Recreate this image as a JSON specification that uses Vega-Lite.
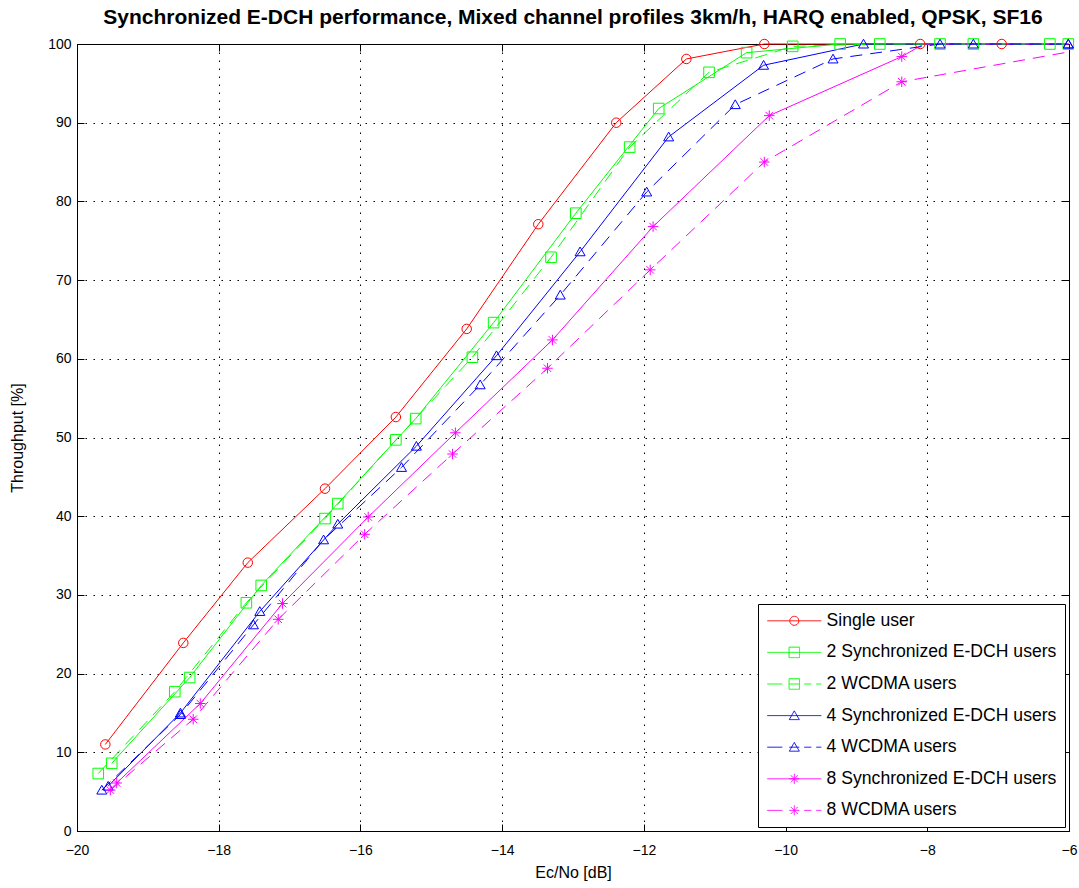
{
  "$schema": "https://vega.github.io/schema/vega-lite/v6.json",
  "width": 992,
  "height": 787,
  "autosize": "none",
  "padding": {"left": 77, "top": 44, "right": 10, "bottom": 57},
  "background": "white",
  "title": {
    "text": "Synchronized E-DCH performance, Mixed channel profiles 3km/h, HARQ enabled, QPSK, SF16",
    "font": "Liberation Sans",
    "fontWeight": "bold",
    "fontSize": 21,
    "color": "black",
    "anchor": "middle",
    "offset": 9
  },
  "config": {
    "view": {"stroke": "black", "strokeWidth": 1},
    "axis": {
      "domainColor": "black",
      "tickColor": "black",
      "labelColor": "black",
      "titleColor": "black",
      "labelFont": "Liberation Sans",
      "labelFontSize": 14,
      "titleFont": "Liberation Sans",
      "titleFontSize": 16,
      "titleFontWeight": "normal",
      "gridColor": "black",
      "gridOpacity": 1,
      "gridDash": [1.5, 6.5],
      "gridWidth": 1,
      "tickSize": -7,
      "labelFlush": false,
      "labelOverlap": false
    }
  },
  "data": {
    "values": [
      {"series": "Single user", "ecno": -19.6, "throughput": 11.0},
      {"series": "Single user", "ecno": -18.5, "throughput": 23.9},
      {"series": "Single user", "ecno": -17.59, "throughput": 34.1},
      {"series": "Single user", "ecno": -16.5, "throughput": 43.5},
      {"series": "Single user", "ecno": -15.5, "throughput": 52.6},
      {"series": "Single user", "ecno": -14.5, "throughput": 63.8},
      {"series": "Single user", "ecno": -13.49, "throughput": 77.1},
      {"series": "Single user", "ecno": -12.39, "throughput": 90.0},
      {"series": "Single user", "ecno": -11.4, "throughput": 98.1},
      {"series": "Single user", "ecno": -10.3, "throughput": 100},
      {"series": "Single user", "ecno": -8.1, "throughput": 100},
      {"series": "Single user", "ecno": -6.95, "throughput": 100},

      {"series": "2 Synchronized E-DCH users", "ecno": -19.51, "throughput": 8.6},
      {"series": "2 Synchronized E-DCH users", "ecno": -18.41, "throughput": 19.5},
      {"series": "2 Synchronized E-DCH users", "ecno": -17.4, "throughput": 31.2},
      {"series": "2 Synchronized E-DCH users", "ecno": -16.32, "throughput": 41.6},
      {"series": "2 Synchronized E-DCH users", "ecno": -15.22, "throughput": 52.4},
      {"series": "2 Synchronized E-DCH users", "ecno": -14.12, "throughput": 64.6},
      {"series": "2 Synchronized E-DCH users", "ecno": -12.96, "throughput": 78.5},
      {"series": "2 Synchronized E-DCH users", "ecno": -11.79, "throughput": 91.8},
      {"series": "2 Synchronized E-DCH users", "ecno": -10.55, "throughput": 98.9},
      {"series": "2 Synchronized E-DCH users", "ecno": -9.23, "throughput": 100},
      {"series": "2 Synchronized E-DCH users", "ecno": -7.82, "throughput": 100},
      {"series": "2 Synchronized E-DCH users", "ecno": -6.27, "throughput": 100},

      {"series": "2 WCDMA users", "ecno": -19.7, "throughput": 7.3},
      {"series": "2 WCDMA users", "ecno": -18.62, "throughput": 17.7},
      {"series": "2 WCDMA users", "ecno": -17.61, "throughput": 29.0},
      {"series": "2 WCDMA users", "ecno": -16.5, "throughput": 39.7},
      {"series": "2 WCDMA users", "ecno": -15.5, "throughput": 49.7},
      {"series": "2 WCDMA users", "ecno": -14.42, "throughput": 60.2},
      {"series": "2 WCDMA users", "ecno": -13.31, "throughput": 72.9},
      {"series": "2 WCDMA users", "ecno": -12.2, "throughput": 86.9},
      {"series": "2 WCDMA users", "ecno": -11.08, "throughput": 96.4},
      {"series": "2 WCDMA users", "ecno": -9.9, "throughput": 99.7},
      {"series": "2 WCDMA users", "ecno": -8.67, "throughput": 100},
      {"series": "2 WCDMA users", "ecno": -7.35, "throughput": 100},
      {"series": "2 WCDMA users", "ecno": -6.01, "throughput": 100},

      {"series": "4 Synchronized E-DCH users", "ecno": -19.56, "throughput": 5.7},
      {"series": "4 Synchronized E-DCH users", "ecno": -18.54, "throughput": 15.0},
      {"series": "4 Synchronized E-DCH users", "ecno": -17.42, "throughput": 27.9},
      {"series": "4 Synchronized E-DCH users", "ecno": -16.32, "throughput": 39.0},
      {"series": "4 Synchronized E-DCH users", "ecno": -15.21, "throughput": 48.9},
      {"series": "4 Synchronized E-DCH users", "ecno": -14.08, "throughput": 60.4},
      {"series": "4 Synchronized E-DCH users", "ecno": -12.9, "throughput": 73.6},
      {"series": "4 Synchronized E-DCH users", "ecno": -11.65, "throughput": 88.2},
      {"series": "4 Synchronized E-DCH users", "ecno": -10.31, "throughput": 97.3},
      {"series": "4 Synchronized E-DCH users", "ecno": -8.9, "throughput": 100},
      {"series": "4 Synchronized E-DCH users", "ecno": -7.35, "throughput": 100},
      {"series": "4 Synchronized E-DCH users", "ecno": -6.01, "throughput": 100},

      {"series": "4 WCDMA users", "ecno": -19.65, "throughput": 5.2},
      {"series": "4 WCDMA users", "ecno": -18.54, "throughput": 14.8},
      {"series": "4 WCDMA users", "ecno": -17.51, "throughput": 26.2},
      {"series": "4 WCDMA users", "ecno": -16.52, "throughput": 37.0},
      {"series": "4 WCDMA users", "ecno": -15.42, "throughput": 46.2},
      {"series": "4 WCDMA users", "ecno": -14.31, "throughput": 56.7},
      {"series": "4 WCDMA users", "ecno": -13.18, "throughput": 68.1},
      {"series": "4 WCDMA users", "ecno": -11.96, "throughput": 81.2},
      {"series": "4 WCDMA users", "ecno": -10.71, "throughput": 92.3},
      {"series": "4 WCDMA users", "ecno": -9.33, "throughput": 98.1},
      {"series": "4 WCDMA users", "ecno": -7.82, "throughput": 100},
      {"series": "4 WCDMA users", "ecno": -6.01, "throughput": 100},

      {"series": "8 Synchronized E-DCH users", "ecno": -19.44, "throughput": 6.1},
      {"series": "8 Synchronized E-DCH users", "ecno": -18.26, "throughput": 16.2},
      {"series": "8 Synchronized E-DCH users", "ecno": -17.1, "throughput": 28.9},
      {"series": "8 Synchronized E-DCH users", "ecno": -15.89, "throughput": 39.9},
      {"series": "8 Synchronized E-DCH users", "ecno": -14.66, "throughput": 50.6},
      {"series": "8 Synchronized E-DCH users", "ecno": -13.29, "throughput": 62.4},
      {"series": "8 Synchronized E-DCH users", "ecno": -11.87, "throughput": 76.8},
      {"series": "8 Synchronized E-DCH users", "ecno": -10.23, "throughput": 90.9},
      {"series": "8 Synchronized E-DCH users", "ecno": -8.36, "throughput": 98.4},
      {"series": "8 Synchronized E-DCH users", "ecno": -8.05, "throughput": 100},
      {"series": "8 Synchronized E-DCH users", "ecno": -6.0, "throughput": 100},

      {"series": "8 WCDMA users", "ecno": -19.53, "throughput": 5.2},
      {"series": "8 WCDMA users", "ecno": -18.36, "throughput": 14.2},
      {"series": "8 WCDMA users", "ecno": -17.16, "throughput": 26.9},
      {"series": "8 WCDMA users", "ecno": -15.94, "throughput": 37.7},
      {"series": "8 WCDMA users", "ecno": -14.7, "throughput": 47.9},
      {"series": "8 WCDMA users", "ecno": -13.36, "throughput": 58.8},
      {"series": "8 WCDMA users", "ecno": -11.91, "throughput": 71.3},
      {"series": "8 WCDMA users", "ecno": -10.3, "throughput": 85.0},
      {"series": "8 WCDMA users", "ecno": -8.36, "throughput": 95.2},
      {"series": "8 WCDMA users", "ecno": -6.0, "throughput": 99.0}
    ]
  },
  "layer": [
    {
      "transform": [{"filter": "indexof(datum.series, 'WCDMA') < 0"}],
      "mark": {"type": "line", "strokeWidth": 1, "clip": false},
      "encoding": {
        "x": {
          "field": "ecno", "type": "quantitative",
          "scale": {"domain": [-20, -6], "nice": false, "zero": false},
          "axis": {
            "orient": "bottom",
            "values": [-20, -18, -16, -14, -12, -10, -8, -6],
            "grid": true,
            "labelPadding": 19,
            "title": "Ec/No [dB]",
            "titlePadding": 7
          }
        },
        "y": {
          "field": "throughput", "type": "quantitative",
          "scale": {"domain": [0, 100], "nice": false, "zero": true},
          "axis": {
            "orient": "left",
            "values": [0, 10, 20, 30, 40, 50, 60, 70, 80, 90, 100],
            "grid": true,
            "labelPadding": 13,
            "title": "Throughput [%]",
            "titlePadding": 22
          }
        },
        "color": {
          "field": "series", "type": "nominal",
          "scale": {
            "domain": ["Single user", "2 Synchronized E-DCH users", "2 WCDMA users", "4 Synchronized E-DCH users", "4 WCDMA users", "8 Synchronized E-DCH users", "8 WCDMA users"],
            "range": ["#ff0000", "#00ff00", "#00ff00", "#0000ff", "#0000ff", "#ff00ff", "#ff00ff"]
          },
          "legend": {
            "title": null,
            "orient": "none",
            "legendX": 681,
            "legendY": 560,
            "direction": "vertical",
            "fillColor": "white",
            "strokeColor": "black",
            "padding": 8,
            "symbolSize": 100,
            "symbolStrokeWidth": 1,
            "symbolOffset": 19.5,
            "labelOffset": 23.5,
            "labelFont": "Liberation Sans",
            "labelFontSize": 17.6,
            "labelColor": "black",
            "labelLimit": 400,
            "rowPadding": 12.6,
            "encode": {
              "symbols": {
                "update": {
                  "shape": {"signal": "['M-5.4,0H5.4M0.9,0A0.9,0.9,0,1,1,-0.9,0A0.9,0.9,0,1,1,0.9,0Z', 'M-5.4,0H5.4M-1.05,-1.05H1.05V1.05H-1.05Z', 'M-5.4,0H-2.4M-1,0H1M2,0H3.4M4.4,0H5.4M-1.05,-1.05H1.05V1.05H-1.05Z', 'M-5.4,0H5.4M0,-0.95L1,0.8H-1Z', 'M-5.4,0H-2.4M-1,0H1M2,0H3.4M4.4,0H5.4M0,-0.95L1,0.8H-1Z', 'M-5.4,0H5.4M-1,0H1M0,-1V1M-0.7,-0.7L0.7,0.7M-0.7,0.7L0.7,-0.7', 'M-5.4,0H-2.4M-1,0H1M2,0H3.4M4.4,0H5.4M0,-1V1M-0.7,-0.7L0.7,0.7M-0.7,0.7L0.7,-0.7'][datum.index]"},
                  "fill": {"value": "transparent"},
                  "strokeDash": {"value": [1, 0]},
                  "opacity": {"value": 1}
                }
              }
            }
          }
        }
      }
    },
    {
      "transform": [{"filter": "indexof(datum.series, 'WCDMA') >= 0"}],
      "mark": {"type": "line", "strokeWidth": 1, "strokeDash": [12, 8], "clip": false},
      "encoding": {
        "x": {"field": "ecno", "type": "quantitative", "axis": null},
        "y": {"field": "throughput", "type": "quantitative", "axis": null},
        "color": {"field": "series", "type": "nominal", "legend": null}
      }
    },
    {
      "transform": [{"filter": "datum.series === 'Single user'"}],
      "mark": {"type": "point", "filled": false, "strokeWidth": 1, "size": 100, "opacity": 1, "clip": false,
               "shape": "M0.95,0A0.95,0.95,0,1,1,-0.95,0A0.95,0.95,0,1,1,0.95,0Z"},
      "encoding": {
        "x": {
          "field": "ecno", "type": "quantitative",
          "axis": {"orient": "top", "values": [-20, -18, -16, -14, -12, -10, -8, -6], "labels": false, "grid": false, "domain": false, "title": null}
        },
        "y": {
          "field": "throughput", "type": "quantitative",
          "axis": {"orient": "right", "values": [0, 10, 20, 30, 40, 50, 60, 70, 80, 90, 100], "labels": false, "grid": false, "domain": false, "title": null}
        },
        "color": {"field": "series", "type": "nominal", "legend": null}
      }
    },
    {
      "transform": [{"filter": "datum.series[0] === '2'"}],
      "mark": {"type": "point", "filled": false, "strokeWidth": 1, "size": 100, "opacity": 1, "clip": false,
               "shape": "M-1.06,-1.06H1.06V1.06H-1.06Z"},
      "encoding": {
        "x": {"field": "ecno", "type": "quantitative", "axis": null},
        "y": {"field": "throughput", "type": "quantitative", "axis": null},
        "color": {"field": "series", "type": "nominal", "legend": null}
      }
    },
    {
      "transform": [{"filter": "datum.series[0] === '4'"}],
      "mark": {"type": "point", "filled": false, "strokeWidth": 1, "size": 100, "opacity": 1, "clip": false,
               "shape": "M0,-0.95L1,0.8H-1Z"},
      "encoding": {
        "x": {"field": "ecno", "type": "quantitative", "axis": null},
        "y": {"field": "throughput", "type": "quantitative", "axis": null},
        "color": {"field": "series", "type": "nominal", "legend": null}
      }
    },
    {
      "transform": [{"filter": "datum.series[0] === '8' && datum.throughput < 98.8"}],
      "mark": {"type": "point", "filled": false, "strokeWidth": 1, "size": 100, "opacity": 1, "clip": false,
               "shape": "M-1.05,0H1.05M0,-1.05V1.05M-0.75,-0.75L0.75,0.75M-0.75,0.75L0.75,-0.75"},
      "encoding": {
        "x": {"field": "ecno", "type": "quantitative", "axis": null},
        "y": {"field": "throughput", "type": "quantitative", "axis": null},
        "color": {"field": "series", "type": "nominal", "legend": null}
      }
    }
  ],
  "resolve": {"axis": {"x": "independent", "y": "independent"}}
}
